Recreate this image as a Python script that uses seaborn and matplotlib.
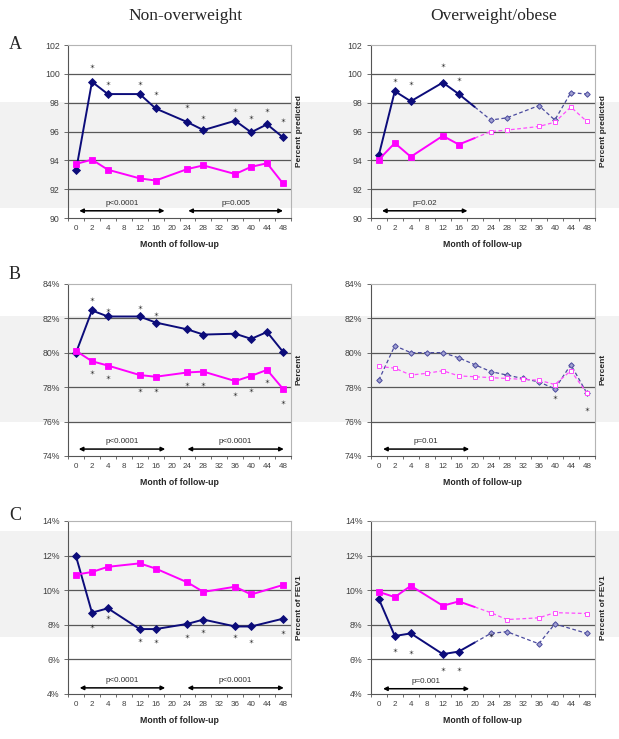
import numpy as np
import matplotlib
matplotlib.use("Agg")
import matplotlib.pyplot as plt
from matplotlib.patches import Rectangle
from matplotlib.ticker import FuncFormatter
import seaborn as sns

sns.set_theme(style="white")
plt.rcParams["font.family"] = ["Liberation Sans", "DejaVu Sans"]

nan = np.nan

# ── DATA ─────────────────────────────────────────────────────────────────────
MONTHS = ["0", "2", "4", "8", "12", "16", "20", "24", "28", "32", "36", "40", "44", "48"]

# A: percent predicted
A_NON_BLUE = [93.3, 99.45, 98.6, nan, 98.6, 97.6, nan, 96.65, 96.1, nan, 96.75, 95.95, 96.5, 95.6]
A_NON_PINK = [93.75, 94.05, 93.35, nan, 92.75, 92.6, nan, 93.4, 93.65, nan, 93.05, 93.55, 93.8, 92.4]
A_OB_BLUE = [94.35, 98.8, 98.1, nan, 99.4, 98.6, nan, 96.8, 96.95, nan, 97.8, 96.8, 98.7, 98.6]
A_OB_PINK = [94.05, 95.2, 94.25, nan, 95.7, 95.1, nan, 96.0, 96.1, nan, 96.35, 96.65, 97.7, 96.7]

# B: percent
B_NON_BLUE = [80.0, 82.45, 82.1, nan, 82.1, 81.75, nan, 81.35, 81.05, nan, 81.1, 80.8, 81.2, 80.05]
B_NON_PINK = [80.1, 79.5, 79.25, nan, 78.7, 78.6, nan, 78.85, 78.9, nan, 78.35, 78.65, 79.0, 77.9]
B_OB_BLUE = [78.4, 80.4, 80.0, 80.0, 80.0, 79.7, 79.3, 78.9, 78.7, 78.5, 78.3, 77.9, 79.3, 77.65]
B_OB_PINK = [79.2, 79.1, 78.7, 78.8, 78.95, 78.65, 78.6, 78.55, 78.5, 78.45, 78.4, 78.15, 78.95, 77.65]

# C: percent of FEV1
C_NON_BLUE = [11.95, 8.7, 8.95, nan, 7.75, 7.75, nan, 8.05, 8.3, nan, 7.9, 7.9, nan, 8.35]
C_NON_PINK = [10.9, 11.05, 11.35, nan, 11.55, 11.25, nan, 10.45, 9.9, nan, 10.2, 9.75, nan, 10.3]
C_OB_BLUE = [9.5, 7.35, 7.5, nan, 6.3, 6.45, nan, 7.5, 7.6, nan, 6.9, 8.05, nan, 7.5]
C_OB_PINK = [9.9, 9.6, 10.25, nan, 9.1, 9.35, nan, 8.7, 8.3, nan, 8.4, 8.7, nan, 8.65]

# significance stars (category index, value)
A_NON_STAR_X = [1, 2, 4, 5, 7, 8, 10, 11, 12, 13]
A_NON_STAR_Y = [100.55, 99.4, 99.4, 98.7, 97.8, 97.0, 97.5, 97.0, 97.5, 96.8]
A_OB_STAR_X = [1, 2, 4, 5]
A_OB_STAR_Y = [99.6, 99.35, 100.65, 99.65]
B_NON_STAR_X = [1, 2, 4, 5, 1, 2, 4, 5, 7, 8, 10, 11, 12, 13]
B_NON_STAR_Y = [83.1, 82.45, 82.68, 82.24, 78.85, 78.57, 77.84, 77.84, 78.17, 78.17,
                77.59, 77.84, 78.38, 77.16]
B_OB_STAR_X = [11, 13]
B_OB_STAR_Y = [77.41, 76.73]
C_NON_STAR_X = [1, 2, 4, 5, 7, 8, 10, 11, 13]
C_NON_STAR_Y = [7.9, 8.42, 7.13, 7.04, 7.33, 7.65, 7.33, 7.08, 7.58]
C_OB_STAR_X = [1, 2, 4, 5, 7]
C_OB_STAR_Y = [6.52, 6.42, 5.44, 5.44, 7.42]

# p-value arrows (start, end, level, label)
A_NON_P = [(0.2, 5.56, 90.5, "p<0.0001"), (7.05, 13.0, 90.5, "p=0.005")]
A_OB_P = [(0.2, 5.54, 90.5, "p=0.02")]
B_NON_P = [(0.17, 5.6, 74.4, "p<0.0001"), (7.0, 13.05, 74.4, "p<0.0001")]
B_OB_P = [(0.27, 5.65, 74.4, "p=0.01")]
C_NON_P = [(0.23, 5.6, 4.35, "p<0.0001"), (7.0, 13.05, 4.35, "p<0.0001")]
C_OB_P = [(0.27, 5.65, 4.3, "p=0.001")]

NAVY = "#0c0c7a"
PINK = "#ff00ff"
NAVY_D = "#4a4a9e"
PINK_D = "#ff4dff"
GRAY = "#404040"


def draw_series(ax, vals, color, marker, ms, dash_from, dcolor, dface, dms):
    x = np.arange(len(vals))
    y = np.array(vals, float)
    ok = ~np.isnan(y)
    xs, ys = x[ok], y[ok]
    solid_kw = dict(color=color, lw=1.4, marker=marker, markersize=ms,
                    markeredgecolor=color, markerfacecolor=color,
                    markeredgewidth=0.6, errorbar=None, zorder=4)
    dash_kw = dict(color=dcolor, lw=0.9, linestyle=(0, (3, 2)), marker=marker,
                   markersize=dms, markeredgecolor=dcolor, markerfacecolor=dface,
                   markeredgewidth=0.7, errorbar=None, zorder=4)
    if dash_from is None:
        sns.lineplot(x=xs, y=ys, ax=ax, **solid_kw)
        return
    if dash_from == 0:
        sns.lineplot(x=xs, y=ys, ax=ax, **dash_kw)
        return
    # solid up to the last observed visit, then dashed (bridge interpolated)
    solid = xs < dash_from
    yb = float(np.interp(dash_from, xs, ys))
    sns.lineplot(x=xs[solid], y=ys[solid], ax=ax, **solid_kw)
    sns.lineplot(x=[xs[solid][-1], dash_from], y=[ys[solid][-1], yb], ax=ax,
                 color=color, lw=1.4, errorbar=None, zorder=4)
    sns.lineplot(x=np.r_[dash_from, xs[~solid]], y=np.r_[yb, ys[~solid]], ax=ax,
                 markevery=slice(1, None), **dash_kw)


def style_axes(ax, lo, hi, ylabel, pct):
    ax.set_facecolor("none")
    ax.set_xlim(-0.5, 13.5)
    ax.set_ylim(lo, hi)
    ticks = np.arange(lo, hi + 0.1, 2)
    ax.set_yticks(ticks)
    if pct:
        ax.yaxis.set_major_formatter(FuncFormatter(lambda v, p: f"{v:.0f}%"))
    for t in ticks[1:-1]:
        ax.axhline(t, color="#585858", lw=0.9, zorder=1)
    ax.set_xticks(np.arange(len(MONTHS)))
    ax.set_xticklabels(MONTHS)
    ax.set_xticks(np.arange(-0.5, 13.6, 1), minor=True)
    ax.tick_params(axis="x", which="major", length=0, pad=5, labelsize=5.8, labelcolor=GRAY)
    ax.tick_params(axis="x", which="minor", length=2.5, width=0.6, color="#555555", bottom=True)
    ax.tick_params(axis="y", length=3, width=0.6, color="#555555", left=True,
                   pad=3, labelsize=6.3, labelcolor=GRAY)
    for s in ["left", "bottom"]:
        ax.spines[s].set_color("#555555")
        ax.spines[s].set_linewidth(0.8)
    for s in ["top", "right"]:
        ax.spines[s].set_color("#b4b4b4")
        ax.spines[s].set_linewidth(0.8)
    ax.set_xlabel("Month of follow-up", fontsize=6.3, fontweight="bold", labelpad=6)
    ax.set_ylabel(ylabel, fontsize=6.0, fontweight="bold", labelpad=3.5)
    ax.yaxis.set_label_position("right")


def add_marks(ax, sx, sy, pvals):
    sns.scatterplot(x=sx, y=sy, ax=ax, marker="$*$", s=8, color="#2a2a2a",
                    linewidth=0, zorder=5, legend=False)
    for a, b, lev, lab in pvals:
        ax.annotate("", xy=(b, lev), xytext=(a, lev),
                    arrowprops=dict(arrowstyle="<|-|>", color="black", lw=1.1,
                                    mutation_scale=6, shrinkA=0, shrinkB=0))
        ax.annotate(lab, xy=((a + b) / 2, lev), xytext=(0, 5.5),
                    textcoords="offset points", ha="center", va="center",
                    fontsize=5.8, color="#303030")


fig = plt.figure(figsize=(6.19, 7.39), dpi=100)

for yb in [0.7185, 0.429, 0.138]:
    fig.add_artist(Rectangle((0, yb), 1, 0.1434, transform=fig.transFigure,
                             color="#f2f2f2", lw=0, zorder=-5))

rows = [
    (0.705, 0.234, 90, 102, "Percent predicted", False,
     (A_NON_BLUE, A_NON_PINK, A_NON_STAR_X, A_NON_STAR_Y, A_NON_P),
     (A_OB_BLUE, A_OB_PINK, A_OB_STAR_X, A_OB_STAR_Y, A_OB_P, 6)),
    (0.383, 0.233, 74, 84, "Percent", True,
     (B_NON_BLUE, B_NON_PINK, B_NON_STAR_X, B_NON_STAR_Y, B_NON_P),
     (B_OB_BLUE, B_OB_PINK, B_OB_STAR_X, B_OB_STAR_Y, B_OB_P, 0)),
    (0.061, 0.234, 4, 14, "Percent of FEV1", True,
     (C_NON_BLUE, C_NON_PINK, C_NON_STAR_X, C_NON_STAR_Y, C_NON_P),
     (C_OB_BLUE, C_OB_PINK, C_OB_STAR_X, C_OB_STAR_Y, C_OB_P, 6)),
]

for bottom, h, lo, hi, ylab, pct, non, ob in rows:
    axl = fig.add_axes([0.110, bottom, 0.360, h])
    axr = fig.add_axes([0.599, bottom, 0.362, h])

    draw_series(axl, non[0], NAVY, "D", 4.2, None, NAVY_D, "#a0a0d0", 2.8)
    draw_series(axl, non[1], PINK, "s", 5.0, None, PINK_D, "white", 3.4)
    style_axes(axl, lo, hi, ylab, pct)
    add_marks(axl, non[2], non[3], non[4])

    draw_series(axr, ob[0], NAVY, "D", 4.2, ob[5], NAVY_D, "#a0a0d0", 2.8)
    draw_series(axr, ob[1], PINK, "s", 5.0, ob[5], PINK_D, "white", 3.4)
    style_axes(axr, lo, hi, ylab, pct)
    add_marks(axr, ob[2], ob[3], ob[4])

serif = ["Liberation Serif", "DejaVu Serif"]
fig.text(0.300, 0.978, "Non-overweight", ha="center", va="center", fontsize=12.5, family=serif)
fig.text(0.797, 0.978, "Overweight/obese", ha="center", va="center", fontsize=12.5, family=serif)
for lab, yy in [("A", 0.940), ("B", 0.628), ("C", 0.303)]:
    fig.text(0.024, yy, lab, ha="center", va="center", fontsize=13, family=serif)

fig.savefig("out.png", dpi=100)
